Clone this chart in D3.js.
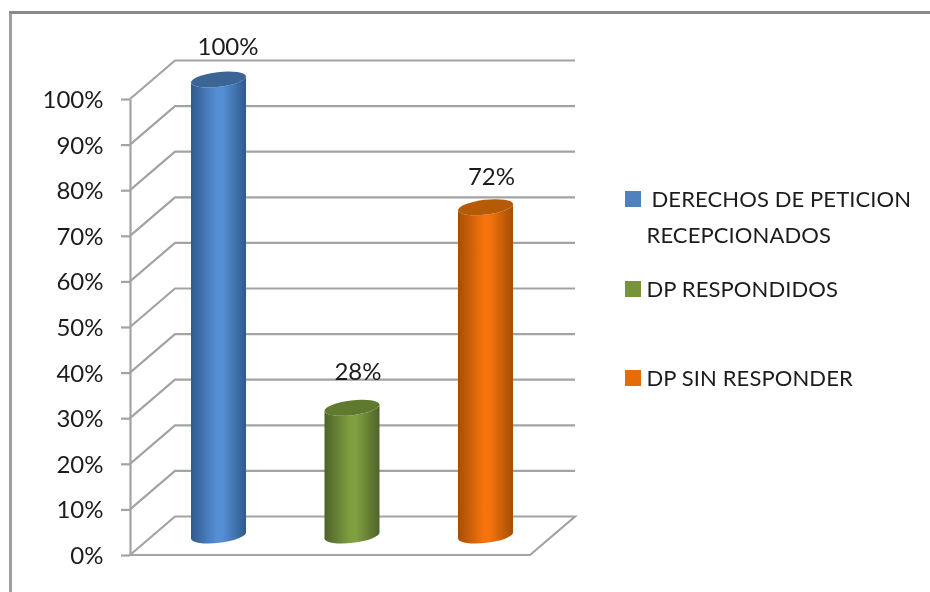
<!DOCTYPE html>
<html><head><meta charset="utf-8">
<script src="https://d3js.org/d3.v7.min.js"></script>
<style>
html,body{margin:0;padding:0;background:#fff}
svg{display:block}
text{font-family:Lato,"Open Sans",sans-serif;fill:#1c1c1c}
</style></head><body>
<div id="chart"></div>
<script>
const categories = ["DERECHOS DE PETICION RECEPCIONADOS","DP RESPONDIDOS","DP SIN RESPONDER"];
const values = [100,28,72];
const tickValues = [0,10,20,30,40,50,60,70,80,90,100];
const legendLines = [[" DERECHOS DE PETICION","RECEPCIONADOS"],["DP RESPONDIDOS"],["DP SIN RESPONDER"]];
const sideColors = ["#2f5a8c","#4f6329","#a44e05"];
const midColors = ["#558ed5","#7f9f40","#f4730c"];
const topColors = ["#3b6595","#5f7a2f","#b55a07"];
const legendColors = ["#4f81bd","#77933c","#e46c0a"];

const W=930,H=592;
const svg=d3.select("#chart").append("svg").attr("width",W).attr("height",H);
const defs=svg.append("defs");
defs.append("filter").attr("id","soft").attr("filterUnits","userSpaceOnUse")
  .attr("x",0).attr("y",0).attr("width",W).attr("height",H)
  .attr("color-interpolation-filters","sRGB")
  .append("feGaussianBlur").attr("stdDeviation",0.45);

const y=d3.scaleLinear().domain([0,100]).range([555,99]);
const x=d3.scalePoint().domain(categories).range([218.5,485.5]);
const labelX=d3.scaleOrdinal().domain(categories).range([9.5,6,6]);
const labelY=d3.scaleOrdinal().domain(categories).range([-24.5,-28,-22.5]);
const front=130, dx=45, dy=-38.5, backRight=575;
const grey="#a3a3a3";

// frame
const root=svg.append("g").attr("filter","url(#soft)");
root.append("path").attr("d",`M10.5,${H}V14`).attr("fill","none").attr("stroke","#a0a0a0").attr("stroke-width",3);
root.append("path").attr("d",`M9,12.5H${W}`).attr("fill","none").attr("stroke","#8a8a8a").attr("stroke-width",3);

// floor
root.append("path")
  .attr("d",`M${front},${y(0)}L${front+dx},${y(0)+dy}H${backRight}L${backRight-dx},${y(0)}H${front}Z`)
  .attr("fill","none").attr("stroke",grey).attr("stroke-width",2.2);

// walls
root.append("g").selectAll("path").data(tickValues.slice(1)).join("path")
  .attr("d",d=>`M${front},${y(d)}L${front+dx},${y(d)+dy}H${backRight}`)
  .attr("fill","none").attr("stroke",grey).attr("stroke-width",2.2);

// axis
const axis=d3.axisLeft(y).tickValues(tickValues).tickFormat(d=>d+"%").tickSize(9).tickSizeOuter(0).tickPadding(17.5);
const ax=root.append("g").attr("transform",`translate(${front},0)`).call(axis);
ax.selectAll("path,line").attr("stroke",grey).attr("stroke-width",2.2);
ax.selectAll("text").attr("font-size",24).attr("font-family","Lato").attr("fill","#1c1c1c").attr("dy","0.35em");

// cylinders
const rx=27.7, ry=7.4, rot=-6.8;
const baseY=535.5;
const vh=d3.scaleLinear().domain([0,100]).range([0,456]);
const ex=rx*Math.cos(rot*Math.PI/180), ey=rx*Math.sin(rot*Math.PI/180);
categories.forEach((c,i)=>{
  const g=defs.append("linearGradient").attr("id","g"+i);
  g.append("stop").attr("offset","0%").attr("stop-color",sideColors[i]);
  g.append("stop").attr("offset","46%").attr("stop-color",midColors[i]);
  g.append("stop").attr("offset","58%").attr("stop-color",midColors[i]);
  g.append("stop").attr("offset","100%").attr("stop-color",sideColors[i]);
});
const bars=root.append("g").selectAll("g").data(categories).join("g");
bars.append("path")
  .attr("d",(c,i)=>{
    const cx=x(c), t=baseY-vh(values[i]);
    return `M${cx-ex},${t-ey}L${cx-ex},${baseY-ey}A${rx},${ry} ${rot} 0 0 ${cx+ex},${baseY+ey}L${cx+ex},${t+ey}A${rx},${ry} ${rot} 0 1 ${cx-ex},${t-ey}Z`;
  })
  .attr("fill",(c,i)=>`url(#g${i})`);
bars.append("ellipse")
  .attr("rx",rx).attr("ry",ry)
  .attr("transform",(c,i)=>`translate(${x(c)},${baseY-vh(values[i])}) rotate(${rot})`)
  .attr("fill",(c,i)=>topColors[i]);

// data labels
root.append("g").selectAll("text").data(categories).join("text")
  .attr("x",c=>x(c)+labelX(c))
  .attr("y",(c,i)=>baseY-vh(values[i])+labelY(c))
  .attr("text-anchor","middle").attr("font-size",24)
  .text((c,i)=>values[i]+"%");

// legend
const legendY=d3.scaleOrdinal().domain(categories).range([207,297,386]);
const leg=root.append("g").selectAll("g").data(categories).join("g");
leg.append("rect").attr("x",625).attr("y",c=>legendY(c)-16).attr("width",16).attr("height",16)
  .attr("fill",(c,i)=>legendColors[i]);
leg.each(function(c,i){
  const sel=d3.select(this);
  legendLines[i].forEach((ln,j)=>{
    sel.append("text").attr("x",646.5+(ln.startsWith(" ")?5:0)).attr("y",legendY(c)+j*36)
      .attr("font-size",22).attr("letter-spacing",0.1).text(ln.trim());
  });
});
</script></body></html>
